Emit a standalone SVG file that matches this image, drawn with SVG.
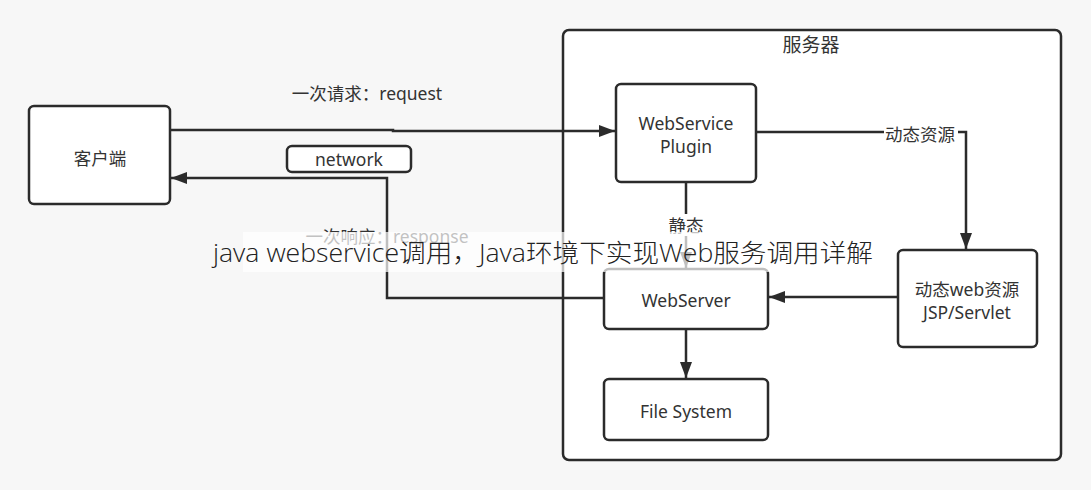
<svg xmlns="http://www.w3.org/2000/svg" width="1091" height="490" viewBox="0 0 1091 490">
<defs>
<marker id="arr" viewBox="0 0 16 12" refX="16" refY="6" markerWidth="16" markerHeight="12" markerUnits="userSpaceOnUse" orient="auto">
<path d="M0,0 L16,6 L0,12 z" fill="#2b2b2b"/>
</marker>
<style>
.box{fill:#ffffff;stroke:#2b2b2b;stroke-width:2.5}
.ln{fill:none;stroke:#2b2b2b;stroke-width:2.5}
.t{font-family:"Noto Sans","Noto Sans CJK SC",sans-serif;font-size:17.5px;fill:#333;text-anchor:middle;dominant-baseline:central}
</style>
</defs>
<rect width="1091" height="490" fill="#f7f7f7"/>
<g id="server">
<rect class="box" x="563" y="30" width="498" height="430" rx="6"/>
<text class="t" x="811" y="45" style="font-size:19px">服务器</text>
</g>
<g id="client">
<rect class="box" x="29" y="106" width="141" height="98" rx="5"/>
<text class="t" x="100" y="158">客户端</text>
</g>
<g id="network">
<rect class="box" x="287" y="146" width="124" height="26" rx="5"/>
<text class="t" x="349" y="159">network</text>
</g>
<g id="plugin">
<rect class="box" x="616" y="84" width="140" height="98" rx="5"/>
<text class="t" x="686" y="123">WebService</text>
<text class="t" x="686" y="146">Plugin</text>
</g>
<g id="dynamic">
<rect class="box" x="898" y="250" width="139" height="97" rx="5"/>
<text class="t" x="967" y="289">动态web资源</text>
<text class="t" x="967" y="312">JSP/Servlet</text>
</g>
<g id="webserver">
<rect class="box" x="604" y="269" width="164" height="60" rx="5"/>
<text class="t" x="686" y="300">WebServer</text>
</g>
<g id="filesystem">
<rect class="box" x="604" y="379" width="164" height="61" rx="5"/>
<text class="t" x="686" y="411">File System</text>
</g>
<g id="connectors">
<path class="ln" d="M170,130 L393,130 L393,131 L615,131" marker-end="url(#arr)"/>
<text class="t" x="367" y="93">一次请求：request</text>
<path class="ln" d="M604,298 L387,298 L387,178 L171,178" marker-end="url(#arr)"/>
<text class="t" x="387" y="236">一次响应：response</text>
<path class="ln" d="M756,132 L966,132 L966,249" marker-end="url(#arr)"/>
<rect x="884" y="124" width="74" height="20" fill="#ffffff"/>
<text class="t" x="920" y="134">动态资源</text>
<path class="ln" d="M686,182 L686,268" marker-end="url(#arr)"/>
<rect x="666" y="214" width="40" height="22" fill="#ffffff"/>
<text class="t" x="686" y="225">静态</text>
<path class="ln" d="M898,297 L769,297" marker-end="url(#arr)"/>
<path class="ln" d="M686,329 L686,378" marker-end="url(#arr)"/>
</g>
<g id="overlay">
<rect x="243" y="232" width="527" height="40" fill="#ffffff" fill-opacity="0.7"/>
<text x="213" y="262" textLength="660" lengthAdjust="spacingAndGlyphs" style="font-family:'Open Sans','Noto Sans CJK SC',sans-serif;font-size:25px;fill:#222;font-weight:300">java webservice调用，Java环境下实现Web服务调用详解</text>
</g>
</svg>
